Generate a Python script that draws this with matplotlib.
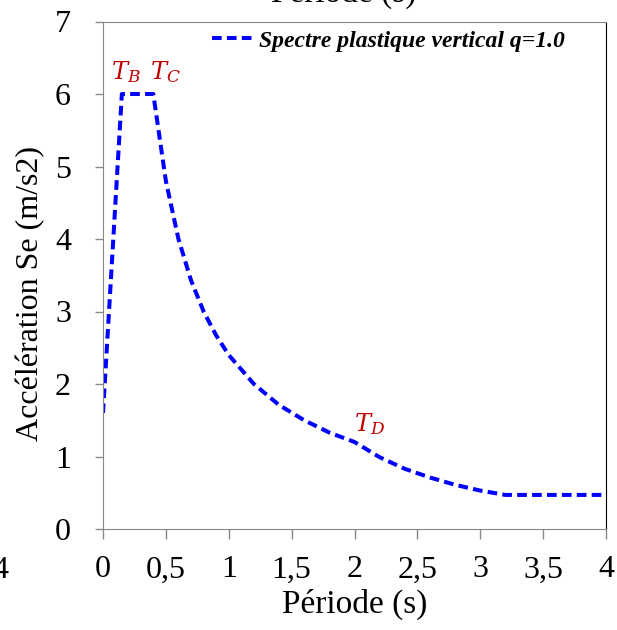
import matplotlib.pyplot as plt

# spectre vertical, valeurs
periode = [0, 0.15, 0.4, 0.5, 0.6, 0.7, 0.8, 0.9, 1.0, 1.2, 1.4, 1.6, 1.8, 2.0,
           2.2, 2.4, 2.6, 2.8, 3.0, 3.2, 3.4, 3.6, 3.8, 4.0]
accel = [1.6, 6.0, 6.0, 4.8, 4.0, 3.43, 3.0, 2.67, 2.4, 2.0, 1.71, 1.5, 1.33, 1.2,
         0.99, 0.83, 0.71, 0.61, 0.53, 0.47, 0.47, 0.47, 0.47, 0.47]
xticks = [0, 0.5, 1, 1.5, 2, 2.5, 3, 3.5, 4]
xlabels = ['0', '0,5', '1', '1,5', '2', '2,5', '3', '3,5', '4']
yticks = [0, 1, 2, 3, 4, 5, 6, 7]
annot = [('$T_B$', 0.06, 6.12), ('$T_C$', 0.37, 6.12), ('$T_D$', 2.0, 1.27)]

plt.rcParams['font.family'] = 'Liberation Serif'
plt.rcParams['mathtext.fontset'] = 'dejavuserif'

fig = plt.figure(figsize=(6.17, 6.3), dpi=100)
ax = fig.add_axes([103/617, 1-529/630, 503/617, 507.5/630])

ax.plot(periode, accel, color='#0000FF', linestyle=(0, (2.4, 1.3)), linewidth=2.9,
        label='Spectre plastique vertical q=1.0')

for txt, x, y in annot:
    ax.text(x, y, txt, color='#C00000', fontsize=17.5, ha='left', va='bottom')

ax.set_xlim(0, 4)
ax.set_ylim(0, 7)
ax.set_xticks(xticks)
ax.set_xticklabels(xlabels)
ax.set_yticks(yticks)
ax.tick_params(labelsize=23, color='#888888', width=1)
ax.tick_params(axis='x', length=7, pad=12)
ax.tick_params(axis='y', length=6, pad=17)
for s in ['left', 'bottom', 'top']:
    ax.spines[s].set_color('#888888')
ax.spines['right'].set_color('black')

ax.set_xlabel('Période (s)', fontsize=24)
ax.set_ylabel('Accélération Se (m/s2)', fontsize=23)
ax.xaxis.set_label_coords(0.5, -0.117)
ax.yaxis.set_label_coords(-0.115, 0.465)

ax.legend(loc='upper right', frameon=False, handlelength=1.9, handletextpad=0.1,
          prop={'style': 'italic', 'weight': 'bold', 'size': 17},
          bbox_to_anchor=(0.96, 1.025))

# restes de la figure voisine (coupés)
fig.text(344/617, 1-9/630, 'Période (s)', fontsize=24, ha='center', va='bottom')
fig.text(0.0, 1-571/630, '4', fontsize=23, ha='center', va='center')

fig.savefig('out.png', dpi=100)
